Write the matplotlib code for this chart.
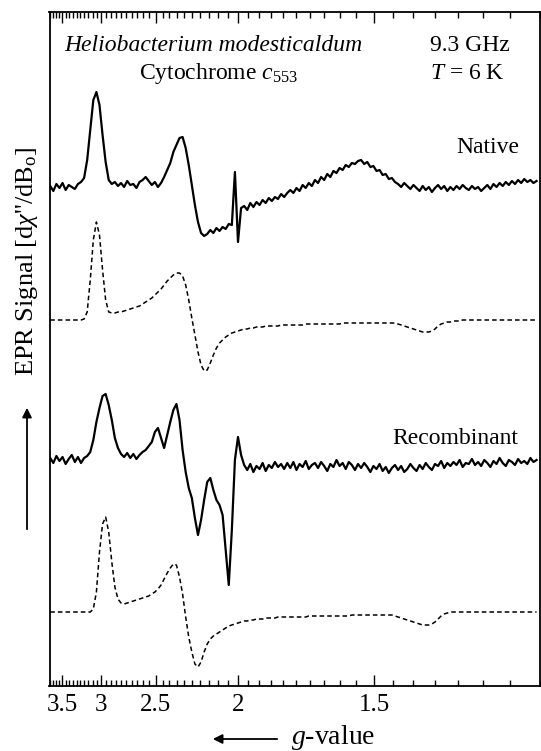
import numpy as np
import matplotlib
matplotlib.use('Agg')
import matplotlib.pyplot as plt

# EPR of cytochrome c553, X-band, field axis labelled in g-values
FREQ_GHZ = 9.3
FIELD_START = 180.0   # mT
FIELD_STEP = 2.5      # mT

# traces, relative to their own baseline (arb. units)
native_exp = ([2, -3, 4, 0, 5, -2, 3, 1, -1, 4, 6, 10]
              + [28, 58, 88, 96, 83, 53, 26, 8, 4]
              + [6, 2, 5, 1, 7, 3, 4, 0, 6, 8, 11, 7, 3, 6, 1, 5]
              + [11, 18, 25, 36, 43, 50, 51, 40, 23, 3, -17, -34, -45, -48]
              + [-46, -42, -45, -40, -43, -39, -41, -36, -37]
              + [16, -54, -20]
              + [-18, -22, -15, -19, -14, -17, -12, -15, -10, -13, -9, -11, -6, -9, -5]
              + [-2, -5, 0, -3, 3, 0, 5, 2, 8, 5, 11, 8, 14, 11, 17, 15, 20, 18, 23, 21, 25, 24, 27]
              + [28, 24, 26, 21, 22, 17, 18, 13, 14, 9, 10, 6]
              + [4, 1, 5, 2, -1, 3, 0, -3, 2, -2, 1, -4, 0, 3, -1, 2, -3, 1, -2, 2, -1, 3, 0, -2, 2, -1, 1, -3]
              + [0, 3, -1, 4, 1, 5, 2, 6, 3, 7, 4, 8, 5, 9, 6, 8, 5, 7])

native_sim = ([0, 0, 0, 0, 0, 0, 0, 0, 0, 0, 0]
              + [1, 8, 40, 80, 98, 85, 50, 20, 8, 7]
              + [7, 8, 8, 9, 10, 11, 12, 13, 14, 16, 18, 20, 22, 25, 28, 31, 35, 39, 42, 45, 47]
              + [47, 44, 35, 20, 2, -15, -32, -45, -51, -50, -43, -35, -28, -23, -20, -17, -15, -13, -12, -11, -10]
              + [-9, -9, -8, -8, -7, -7, -7, -6]
              + [-6] * 4 + [-5] * 8 + [-4] * 12 + [-3] * 18
              + [-4, -5, -6, -7, -8, -9, -10, -11, -12, -12, -12, -11, -9, -6, -4, -3, -2, -2]
              + [-1, -1, -1] + [0] * 25)

recomb_exp = ([2, -3, 4, -1, 3, -4, 1, 5, -2, 3, -3, 2, 4]
              + [8, 20, 38, 52, 64, 66, 55, 40, 22, 12, 6]
              + [3, 7, 2, 6, 1, 5, 8]
              + [10, 14, 18, 28, 32, 22, 12, 25, 38, 50, 56]
              + [40, 10, -12, -28, -38, -58, -75, -60, -40, -22, -18, -30, -40, -45, -55, -90, -125, -70, 0, 23, 5, -5]
              + [-10, -4, -12, -6, -9, -3, -11, -5, -8, -2, -7, -4, -9, -3]
              + [-8, -2, -10, -4, -7, -1, -9, -5, -3, -8, -2, -6, -11, -4, -7, 0, -6, -3, -9, -2,
                 -5, -10, -4, -8, -3, -7, -12, -6, -9, -4, -11, -7, -13, -8, -5, -10, -6, -12, -9, -4,
                 -8, -11, -5, -9, -3, -7, -10, -4, -6, -1, -8, -3, -6, -2, -5, 0, -7, -3, -4, 1,
                 -5, -2, -6, 0, -3, -7, -1, -4, 2, -3, -6, 0, -2, -5, 1, -3, -1, -4, 2, -2, 0])

recomb_sim = ([0] * 14
              + [3, 20, 60, 88, 95, 80, 50, 25, 13, 9]
              + [8, 9, 10, 11, 12, 13, 14, 15, 16, 18, 20, 23, 27, 33, 39, 44, 48, 47]
              + [35, 18, -5, -25, -40, -52, -55, -50, -40, -32, -27, -24, -22, -20, -18, -16, -14, -13, -12, -11, -10]
              + [-9, -9, -8, -8, -7, -7, -7, -6, -6, -6, -6, -5, -5, -5, -5]
              + [-5] * 6 + [-4] * 14 + [-3] * 14
              + [-4, -5, -6, -7, -8, -9, -10, -11, -12, -13, -13, -13, -12, -10, -7, -4, -2, -1, 0]
              + [0] * 28)

major_g = [3.5, 3.0, 2.5, 2.0, 1.5]
major_labels = ['3.5', '3', '2.5', '2', '1.5']
minor_g = [round(3.7 - 0.05 * k, 2) for k in range(52)]


def g_to_mT(g):
    return 71.4477 * FREQ_GHZ / np.asarray(g, dtype=float)


field = FIELD_START + FIELD_STEP * np.arange(len(native_exp))

plt.rcParams['font.family'] = 'Liberation Serif'
plt.rcParams['mathtext.fontset'] = 'custom'
plt.rcParams['mathtext.rm'] = 'Liberation Serif'
plt.rcParams['mathtext.it'] = 'Liberation Serif:italic'

fig = plt.figure(figsize=(5.41, 7.51), dpi=100)
ax = fig.add_axes([49.5 / 541, 65 / 751, 490.5 / 541, 674 / 751])

offsets = [498, 366, 226, 74]
ax.plot(field, offsets[0] + np.array(native_exp), color='black', lw=1.6)
ax.plot(field, offsets[1] + np.array(native_sim), color='black', lw=1.1, ls=(0, (3, 2)))
ax.plot(field, offsets[2] + np.array(recomb_exp), color='black', lw=1.6)
ax.plot(field, offsets[3] + np.array(recomb_sim), color='black', lw=1.1, ls=(0, (3, 2)))

ax.set_xlim(179.4, 575.0)
ax.set_ylim(0, 674)
ax.set_yticks([])
ax.set_xticks(g_to_mT(major_g))
ax.set_xticklabels(major_labels, fontsize=18)
ax.set_xticks(g_to_mT(minor_g), minor=True)
ax.tick_params(axis='x', which='both', direction='in', top=True, width=1.0)
ax.tick_params(axis='x', which='major', length=8, pad=6)
ax.tick_params(axis='x', which='minor', length=4)
for sp in ax.spines.values():
    sp.set_linewidth(1.3)

ax.text(0.333, 0.951, 'Heliobacterium modesticaldum', style='italic',
        fontsize=17, ha='center', va='center', transform=ax.transAxes)
ax.text(0.345, 0.909, r'Cytochrome $c_{553}$', fontsize=17,
        ha='center', va='center', transform=ax.transAxes)
ax.text(0.776, 0.951, '9.3 GHz', fontsize=17, ha='left', va='center', transform=ax.transAxes)
ax.text(0.776, 0.909, r'$T$ = 6 K', fontsize=17, ha='left', va='center', transform=ax.transAxes)
ax.text(0.957, 0.799, 'Native', fontsize=17, ha='right', va='center', transform=ax.transAxes)
ax.text(0.955, 0.367, 'Recombinant', fontsize=17, ha='right', va='center', transform=ax.transAxes)

# axis labels with arrows
fig.text(27 / 541, (751 - 262) / 751, "EPR Signal [d$\\chi$''/dB$_{\\mathrm{o}}$]",
         rotation=90, fontsize=19, ha='center', va='center')
fig.add_artist(matplotlib.patches.FancyArrowPatch(
    (27 / 541, (751 - 532) / 751), (27 / 541, (751 - 405) / 751),
    transform=fig.transFigure, arrowstyle='-|>', mutation_scale=14, lw=1.3, color='black'))
fig.text(333 / 541, (751 - 738) / 751, '$g$-value', fontsize=20, ha='center', va='center')
fig.add_artist(matplotlib.patches.FancyArrowPatch(
    (280 / 541, (751 - 739) / 751), (210 / 541, (751 - 739) / 751),
    transform=fig.transFigure, arrowstyle='-|>', mutation_scale=14, lw=1.3, color='black'))

fig.savefig('out.png', dpi=100)
